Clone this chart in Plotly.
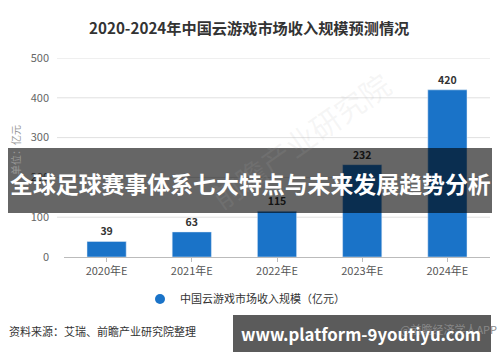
import plotly.graph_objects as go

categories = ["2020年E", "2021年E", "2022年E", "2023年E", "2024年E"]
revenue = [39, 63, 115, 232, 420]
y_ticks = [0, 100, 200, 300, 400, 500]
series_name = "中国云游戏市场收入规模（亿元）"

FONT = "Noto Sans CJK SC"
W, H = 500, 362
L, R, T, B = 64, 490, 58, 257


def px(x):
    return (x - L) / (R - L)


def py(y):
    return (B - y) / (B - T)


fig = go.Figure()
fig.add_trace(go.Bar(
    x=categories, y=revenue, marker_color="#1a73c8", width=0.46,
    text=[str(v) for v in revenue], textposition="outside",
    textfont=dict(family=FONT, size=10.5, color="#333333", weight="bold"),
    cliponaxis=False, showlegend=False,
))
# legend marker (circle)
fig.add_trace(go.Scatter(
    x=[None], y=[None], mode="markers", name=series_name,
    marker=dict(symbol="circle", size=10, color="#1a73c8"),
))

shapes = []
for t in y_ticks[1:]:
    shapes.append(dict(type="line", xref="paper", yref="y", x0=px(57), x1=1, y0=t, y1=t,
                       line=dict(color="#e0e0e0", width=1), layer="below"))
# dark banner
shapes.append(dict(type="rect", xref="paper", yref="paper", x0=px(8), x1=px(492),
                   y0=py(213), y1=py(148), fillcolor="rgba(0,0,0,0.6)", line=dict(width=0),
                   layer="above"))
# watermark box
shapes.append(dict(type="rect", xref="paper", yref="paper", x0=px(233), x1=px(491),
                   y0=py(352), y1=py(315), fillcolor="#5b5b5b", line=dict(width=0),
                   layer="above"))

annotations = [
    dict(text="<b>2020-2024年中国云游戏市场收入规模预测情况</b>", xref="paper", yref="paper",
         x=px(249), y=py(27), showarrow=False, xanchor="center", yanchor="middle",
         font=dict(family=FONT, size=15.2, color="#333333")),
    dict(text="单位：亿元", xref="paper", yref="paper", x=px(15), y=py(150), textangle=-90,
         showarrow=False, xanchor="center", yanchor="middle",
         font=dict(family=FONT, size=10, color="#999999")),
    dict(text="前瞻产业研究院", xref="paper", yref="paper", x=px(300), y=py(140), textangle=-35,
         showarrow=False, xanchor="center", yanchor="middle",
         font=dict(family=FONT, size=30, color="rgba(180,180,180,0.12)")),
    dict(text="资料来源：艾瑞、前瞻产业研究院整理", xref="paper", yref="paper", x=px(7), y=py(331),
         showarrow=False, xanchor="left", yanchor="middle",
         font=dict(family=FONT, size=11, color="#333333")),
    dict(text="@前瞻经济学人APP", xref="paper", yref="paper", x=px(499), y=py(329),
         showarrow=False, xanchor="right", yanchor="middle",
         font=dict(family=FONT, size=11, color="#888888")),
    dict(text="<b>全球足球赛事体系七大特点与未来发展趋势分析</b>", xref="paper", yref="paper",
         x=px(250), y=py(183), showarrow=False, xanchor="center", yanchor="middle",
         font=dict(family=FONT, size=22.9, color="#ffffff")),
    dict(text="<b>www.platform-9youtiyu.com</b>", xref="paper", yref="paper",
         x=px(361), y=py(334), showarrow=False, xanchor="center", yanchor="middle",
         font=dict(family=FONT, size=16.8, color="#ffffff")),
]

fig.update_layout(
    width=W, height=H,
    margin=dict(l=L, r=W - R, t=T, b=H - B, autoexpand=False),
    paper_bgcolor="#ffffff", plot_bgcolor="#ffffff",
    font=dict(family=FONT, color="#666666"),
    bargap=0.54,
    shapes=shapes,
    annotations=annotations,
    legend=dict(orientation="h", x=px(245), xanchor="center", y=py(299), yanchor="middle",
                font=dict(family=FONT, size=11, color="#333333"), itemwidth=30,
                bgcolor="rgba(0,0,0,0)"),
    xaxis=dict(showline=True, linecolor="#bbbbbb", linewidth=1, ticks="outside",
               ticklen=4, tickcolor="#bbbbbb", showgrid=False,
               tickfont=dict(family=FONT, size=11, color="#555555")),
    yaxis=dict(range=[0, 500], tickvals=y_ticks, showgrid=False, zeroline=False,
               ticklabelstandoff=14,
               tickfont=dict(family=FONT, size=11, color="#666666")),
)

fig.write_html(
    "out.html",
    config={"displayModeBar": False},
    post_script="document.body.style.margin='0px';document.body.style.padding='0px';"
                "document.body.style.overflow='hidden';",
)
